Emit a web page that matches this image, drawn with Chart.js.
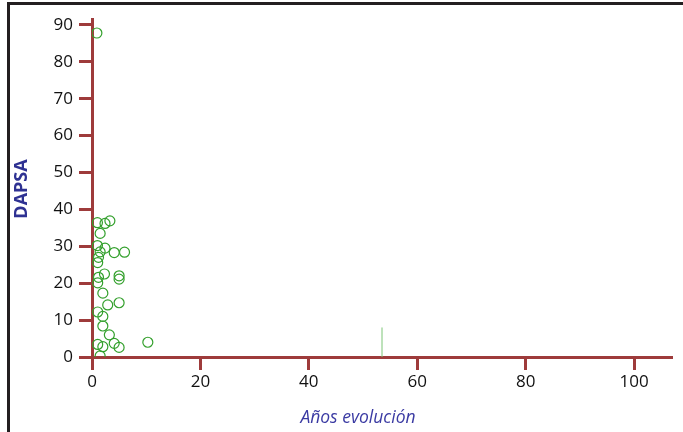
<!DOCTYPE html>
<html lang="es">
<head>
  <meta charset="UTF-8">
  <title>DAPSA vs Años evolución</title>
  <script src="https://cdn.jsdelivr.net/npm/chart.js"></script>
  <style>
    body {
      margin: 0;
      background: #fff;
      font-family: 'Open Sans', sans-serif;
    }
    .wrap {
      position: relative;
      width: 683px;
      height: 432px;
      overflow: hidden;
    }
    .frame {
      position: absolute;
      left: 7px;
      top: 2px;
      width: 680px;
      height: 440px;
      border-top: 3px solid #231f20;
      border-left: 3px solid #231f20;
    }
    canvas {
      position: absolute;
      left: 0;
      top: 0;
    }
  </style>
</head>
<body>
  <div class="wrap">
    <div class="frame"></div>
    <canvas id="scatter" width="683" height="432"></canvas>
  </div>

  <script>
    // años de evolución / DAPSA
    const aniosEvolucion = [1.0, 2.4, 3.3, 1.5, 1.0, 2.4, 1.5, 4.1, 6.0, 1.2,
                            1.05, 2.3, 5.0, 5.0, 1.2, 1.05, 2.0, 2.9, 5.0, 1.05,
                            2.0, 2.0, 3.2, 4.1, 1.05, 2.0, 5.0, 1.5, 10.3, 0.9];
    const dapsa = [36.4, 36.2, 36.9, 33.5, 30.2, 29.5, 28.5, 28.3, 28.4, 27.0,
                   25.6, 22.5, 22.0, 21.1, 21.6, 20.1, 17.3, 14.1, 14.7, 12.2,
                   11.0, 8.4, 6.0, 3.7, 3.4, 2.8, 2.6, 0.3, 4.0, 87.8];

    // trazo vertical suelto
    const marcaX = [53.5, 53.5];
    const marcaY = [0, 8];

    const xTicks = [0, 20, 40, 60, 80, 100];
    const yTicks = [0, 10, 20, 30, 40, 50, 60, 70, 80, 90];

    const axisColor = '#9e3b3b';
    const tickFont = { family: 'Open Sans', size: 17 };

    const titles = {
      id: 'titles',
      afterDraw(chart) {
        const ctx = chart.ctx;
        ctx.save();
        ctx.textAlign = 'center';
        ctx.textBaseline = 'middle';
        ctx.fillStyle = '#3b3ba3';
        ctx.font = "italic 17.5px 'Open Sans'";
        ctx.fillText('Años evolución', 358, 418);
        ctx.translate(22, 189);
        ctx.rotate(-Math.PI / 2);
        ctx.fillStyle = '#2e3192';
        ctx.font = "bold 18px 'Open Sans'";
        ctx.fillText('DAPSA', 0, 0);
        ctx.restore();
      }
    };

    new Chart(document.getElementById('scatter'), {
      type: 'scatter',
      data: {
        datasets: [
          {
            label: 'DAPSA',
            data: aniosEvolucion.map((x, i) => ({ x: x, y: dapsa[i] })),
            borderColor: '#33a02c',
            backgroundColor: 'transparent',
            borderWidth: 1.2,
            pointRadius: 5,
            pointHoverRadius: 5
          },
          {
            type: 'line',
            label: 'marca',
            data: marcaX.map((x, i) => ({ x: x, y: marcaY[i] })),
            borderColor: '#7cc576',
            borderWidth: 1,
            pointRadius: 0,
            fill: false
          }
        ]
      },
      options: {
        responsive: false,
        animation: false,
        layout: {
          padding: { top: 19, right: 11, bottom: 0, left: 0 }
        },
        plugins: {
          legend: { display: false },
          tooltip: { enabled: false }
        },
        scales: {
          x: {
            type: 'linear',
            min: 0,
            max: 107,
            afterBuildTicks: s => { s.ticks = xTicks.map(v => ({ value: v })); },
            afterFit: s => { s.height = 75; },
            border: { display: true, color: axisColor, width: 3 },
            grid: {
              drawOnChartArea: false,
              drawTicks: true,
              tickLength: 13,
              tickWidth: 3,
              tickColor: axisColor
            },
            ticks: { color: '#111', font: tickFont, padding: 2 }
          },
          y: {
            type: 'linear',
            min: 0,
            max: 91.6,
            afterBuildTicks: s => { s.ticks = yTicks.map(v => ({ value: v })); },
            afterFit: s => { s.width = 92; },
            border: { display: true, color: axisColor, width: 3 },
            grid: {
              drawOnChartArea: false,
              drawTicks: true,
              tickLength: 13,
              tickWidth: 3,
              tickColor: axisColor
            },
            ticks: { color: '#111', font: tickFont, padding: 6 }
          }
        }
      },
      plugins: [titles]
    });
  </script>
</body>
</html>
